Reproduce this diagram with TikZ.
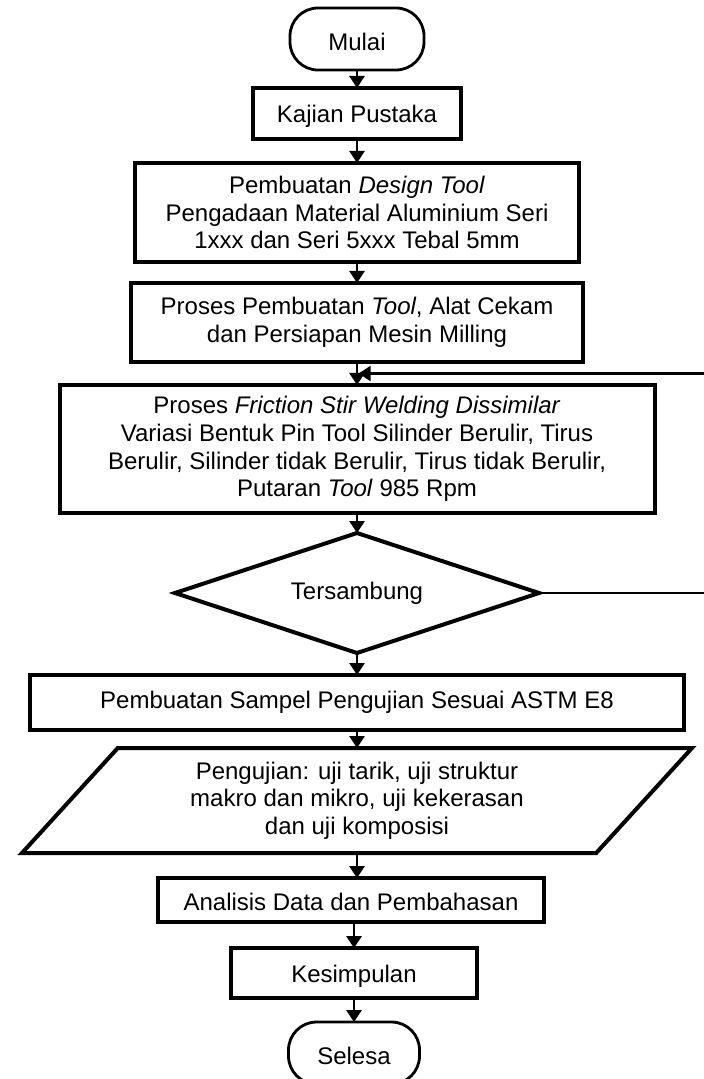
\documentclass[tikz,border=0pt]{standalone}
\usepackage{fontspec}
\setmainfont{Liberation Sans}
\usetikzlibrary{positioning,arrows.meta,shapes.geometric,calc}

\newcommand{\lowtext}[2][1.6pt]{\raisebox{-#1}[\height][\depth]{#2}}

\begin{document}
\begin{tikzpicture}[
    x=0.5pt, y=-0.5pt,
    font=\fontsize{12pt}{13.8pt}\selectfont,
    node distance=10pt,
    terminal/.style={rectangle, rounded corners=14pt, draw, line width=1.4pt, minimum width=67pt, minimum height=31pt, inner sep=0pt, outer sep=0pt},
    process/.style={rectangle, draw, line width=2pt, align=center, inner sep=0pt, outer sep=0pt},
    decision/.style={diamond, aspect=3, draw, line width=2pt, minimum width=182pt, minimum height=60pt, inner sep=0pt, outer sep=0pt},
    data/.style={trapezium, trapezium left angle=39, trapezium right angle=141, trapezium stretches body, draw, line width=2pt, align=center, minimum width=335pt, minimum height=52.5pt, inner sep=0pt, outer sep=0pt},
    arrow/.style={-{Triangle[length=6pt,width=7.5pt]}, line width=1.4pt},
    loopline/.style={-{Triangle[length=6pt,width=7.5pt]}, line width=1.1pt}
  ]
    \useasboundingbox (0,0) rectangle (703,1079);

    % Start and preparation
    \node[terminal] (mulai) at (357,39) {\lowtext{Mulai}};
    \node[process, below=9pt of mulai, minimum width=104pt, minimum height=25.5pt] (kajian) {\lowtext{Kajian Pustaka}};
    \node[process, below=12pt of kajian, minimum width=222pt, minimum height=49.5pt] (design) {Pembuatan \textit{Design Tool}\\Pengadaan Material Aluminium Seri\\1xxx dan Seri 5xxx Tebal 5mm};
    \node[process, below=10.5pt of design, minimum width=226pt, minimum height=39.5pt] (proses) {Proses Pembuatan \textit{Tool}, Alat Cekam\\dan Persiapan Mesin Milling};

    % Welding and check
    \node[process, below=11.5pt of proses, minimum width=297.5pt, minimum height=64pt] (fsw) {Proses \textit{Friction Stir Welding Dissimilar}\\Variasi Bentuk Pin Tool Silinder Berulir, Tirus\\Berulir, Silinder tidak Berulir, Tirus tidak Berulir,\\Putaran \textit{Tool} 985 Rpm};
    \node[decision, below=10pt of fsw] (dec) {Tersambung};

    % Testing and end
    \node[process, below=11pt of dec, minimum width=327pt, minimum height=27.5pt] (astm) {Pembuatan Sampel Pengujian Sesuai ASTM E8};
    \node[data, below=9pt of astm] (uji) {Pengujian: uji tarik, uji struktur\\makro dan mikro, uji kekerasan\\dan uji komposisi};
    \node[process, below=12.5pt of uji, minimum width=193pt, minimum height=22pt, xshift=-3pt] (analisis) {\lowtext[1pt]{Analisis Data dan Pembahasan}};
    \node[process, below=13pt of analisis, minimum width=123pt, minimum height=25pt, xshift=1.5pt] (kes) {\lowtext{Kesimpulan}};
    \node[terminal, below=12pt of kes, minimum width=65.5pt] (selesai) {\lowtext{Selesa}};

    % Connections
    \draw[arrow] (mulai) -- (kajian);
    \draw[arrow] (kajian) -- (design);
    \draw[arrow] (design) -- (proses);
    \draw[arrow] (proses) -- (fsw);
    \draw[arrow] (fsw) -- (dec);
    \draw[arrow] (dec) -- (astm);
    \draw[arrow] (astm.south) -- (astm.south |- uji.north);
    \draw[arrow] (uji.south) -- (uji.south |- analisis.north);
    \draw[arrow] (analisis.south -| kes.north) -- (kes);
    \draw[arrow] (kes) -- (selesai);

    % Loop back when not joined
    \coordinate (fb) at ($(proses.south)!0.5!(fsw.north)$);
    \coordinate (rim) at (706,0);
    \draw[loopline] (dec.east) -- (dec.east -| rim) |- ([xshift=0.8pt]fb);
  \end{tikzpicture}
\end{document}
